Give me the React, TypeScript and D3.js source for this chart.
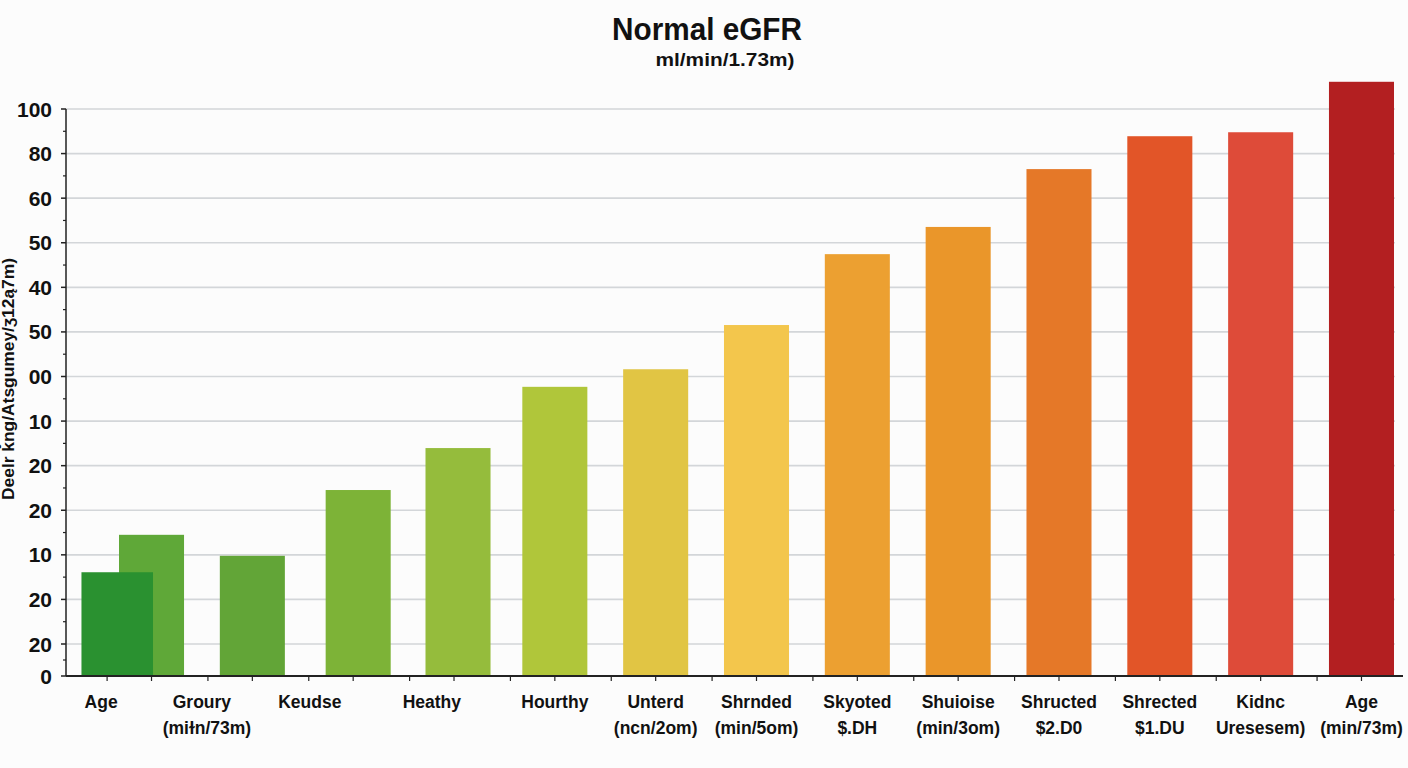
import React from "react";
import * as d3 from "d3";

const categories = [
  ["Age", ""],
  ["Groury", "(miɫn/73m)"],
  ["Keudse", ""],
  ["Heathy", ""],
  ["Hourthy", ""],
  ["Unterd", "(ncn/2om)"],
  ["Shrnded", "(min/5om)"],
  ["Skyoted", "$.DH"],
  ["Shuioise", "(min/3om)"],
  ["Shructed", "$2.D0"],
  ["Shrected", "$1.DU"],
  ["Kidnc", "Uresesem)"],
  ["Age", "(min/73m)"],
];
const values = [24.9, 21.2, 32.8, 40.2, 51.0, 54.1, 61.9, 74.4, 79.2, 89.4, 95.2, 95.9, 104.8];
const colors = [
  "#5fa838", "#62a537", "#7db337", "#95bc3c", "#b0c63a", "#e1c544", "#f3c64c",
  "#eca031", "#ea962a", "#e57828", "#e25528", "#de4b39", "#b31f21",
];
const overlayValue = 18.3;
const overlayColor = "#2a9130";
const yTickLabels = ["0", "20", "20", "10", "20", "20", "10", "00", "50", "40", "50", "60", "80", "100"];
const yTitle = "Deelr ǩng/Atsgumey/ʒ12ą7m)";
const title = "Normal eGFR";
const subtitle = "ml/min/1.73m)";

// layout (not data)
const labelShift = [-0.5, -0.5, -0.43, -0.22, 0, 0, 0, 0, 0, 0, 0, 0, 0];
const barNudge = [0, 0, 5, 4, 0, 0, 0, 0, 0, 0, 0, 0, 0];

export default function App() {
  const W = 1408, H = 768;
  const axisX = 66, axisY = 676, plotRight = 1403;
  const idx = d3.range(categories.length).map(String);
  const x = d3.scaleBand().domain(idx).range([119, 1394]).paddingInner(0.355).paddingOuter(0);
  const bw = x.bandwidth();
  const step = x.step();
  const y = d3.scaleLinear().domain([0, 100]).range([axisY, 109]);
  const yTick = d3.scaleLinear().domain([1, 13]).range([644, 109]);
  const tickY = (i: number) => (i === 0 ? axisY : yTick(i));
  const minorY: number[] = [];
  for (let i = 0; i < yTickLabels.length - 1; i++) minorY.push((tickY(i) + tickY(i + 1)) / 2);
  const xTicks: number[] = [];
  idx.forEach((k) => {
    const c = (x(k) as number) + bw / 2;
    xTicks.push(c - step / 2 + 6, c);
  });
  const font = "'Liberation Sans', Arial, sans-serif";
  const ovW = bw * 1.1;
  const ovX = (x("0") as number) + bw / 2 - step * 0.34 - ovW / 2;

  return (
    <svg width={W} height={H} style={{ position: "absolute", left: 0, top: 0 }} fontFamily={font}>
      <rect x={0} y={0} width={W} height={H} fill="#fcfcfc" />
      <text x={707} y={40} textAnchor="middle" fontSize={31} fontWeight="bold" fill="#111" textLength={190} lengthAdjust="spacingAndGlyphs">{title}</text>
      <text x={725} y={66} textAnchor="middle" fontSize={19} fontWeight="bold" fill="#111" textLength={139} lengthAdjust="spacingAndGlyphs">{subtitle}</text>

      {yTickLabels.slice(1).map((_, j) => (
        <line key={"g" + j} x1={axisX} x2={1395} y1={tickY(j + 1)} y2={tickY(j + 1)} stroke="#d3d6d9" strokeWidth={1.6} />
      ))}

      {values.map((v, i) => (
        <rect key={"b" + i} x={(x(String(i)) as number) + barNudge[i]} y={y(v)} width={bw} height={axisY - y(v)} fill={colors[i]} />
      ))}
      <rect x={ovX} y={y(overlayValue)} width={ovW} height={axisY - y(overlayValue)} fill={overlayColor} />

      <line x1={axisX} x2={axisX} y1={109} y2={axisY} stroke="#222" strokeWidth={1.5} />
      <line x1={axisX} x2={plotRight} y1={axisY} y2={axisY} stroke="#222" strokeWidth={1.8} />
      {yTickLabels.map((t, i) => (
        <g key={"yt" + i}>
          <line x1={axisX - 5} x2={axisX} y1={tickY(i)} y2={tickY(i)} stroke="#222" strokeWidth={1.5} />
          <text x={52} y={tickY(i)} dy="0.36em" textAnchor="end" fontSize={21} fontWeight="bold" fill="#111">{t}</text>
        </g>
      ))}
      {minorY.map((m, i) => (
        <line key={"m" + i} x1={axisX - 3} x2={axisX} y1={m} y2={m} stroke="#222" strokeWidth={1.2} />
      ))}
      {xTicks.map((t, i) => (
        <line key={"xt" + i} x1={t} x2={t} y1={axisY} y2={axisY + 5} stroke="#222" strokeWidth={1.2} />
      ))}
      {categories.map((c, i) => {
        const cx = (x(String(i)) as number) + bw / 2 + labelShift[i] * step;
        return (
          <text key={"xl" + i} x={cx} textAnchor="middle" fontSize={17.5} fontWeight="bold" fill="#111">
            <tspan x={cx} y={708}>{c[0]}</tspan>
            {c[1] ? <tspan x={cx + (i === 1 ? 5 : 0)} y={734}>{c[1]}</tspan> : null}
          </text>
        );
      })}
      <text transform={`translate(14,379) rotate(-90)`} textAnchor="middle" fontSize={16} fontWeight="bold" fill="#111" textLength={242} lengthAdjust="spacingAndGlyphs">{yTitle}</text>
    </svg>
  );
}
